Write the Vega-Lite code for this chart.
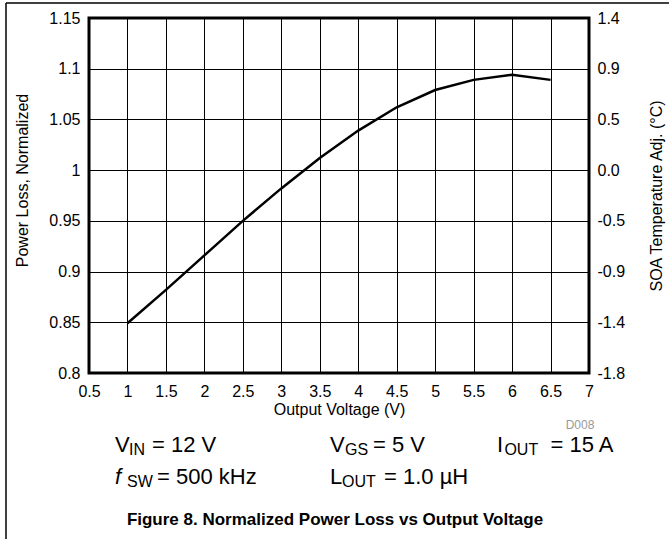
{
  "$schema": "https://vega.github.io/schema/vega-lite/v6.json",
  "width": 500,
  "height": 355,
  "autosize": {"type": "none"},
  "padding": {"left": 89, "top": 18, "right": 80, "bottom": 166},
  "background": "white",
  "config": {
    "font": "Liberation Sans",
    "view": {"stroke": "#000", "strokeWidth": 3},
    "axis": {
      "labelFont": "Liberation Sans",
      "titleFont": "Liberation Sans",
      "labelColor": "#000",
      "titleColor": "#000",
      "labelFontSize": 16,
      "titleFontSize": 16,
      "titleFontWeight": "normal",
      "labelOverlap": false,
      "ticks": false,
      "domain": false,
      "gridColor": "#000",
      "gridOpacity": 1,
      "gridWidth": 1
    }
  },
  "datasets": {
    "curve": [
      {"vout": 1, "loss": 0.849},
      {"vout": 1.5, "loss": 0.882},
      {"vout": 2, "loss": 0.916},
      {"vout": 2.5, "loss": 0.95},
      {"vout": 3, "loss": 0.982},
      {"vout": 3.5, "loss": 1.012},
      {"vout": 4, "loss": 1.039},
      {"vout": 4.5, "loss": 1.062},
      {"vout": 5, "loss": 1.079},
      {"vout": 5.5, "loss": 1.089},
      {"vout": 6, "loss": 1.094},
      {"vout": 6.5, "loss": 1.089}
    ],
    "notes": [
      {"kind": "main", "label": "V", "vx": 0.838, "vy": 0.7295},
      {"kind": "sub", "label": "IN", "vx": 1.02, "vy": 0.7295},
      {"kind": "main", "label": "= 12 V", "vx": 1.319, "vy": 0.7295},
      {"kind": "main", "label": "V", "vx": 3.633, "vy": 0.7295},
      {"kind": "sub", "label": "GS", "vx": 3.828, "vy": 0.7295},
      {"kind": "main", "label": "= 5 V", "vx": 4.192, "vy": 0.7295},
      {"kind": "main", "label": "I", "vx": 5.804, "vy": 0.7295},
      {"kind": "sub", "label": "OUT", "vx": 5.9, "vy": 0.7295},
      {"kind": "main", "label": "= 15 A", "vx": 6.5, "vy": 0.7295},
      {"kind": "italic", "label": "f", "vx": 0.838, "vy": 0.6975},
      {"kind": "sub", "label": "SW", "vx": 0.994, "vy": 0.6975},
      {"kind": "main", "label": "= 500 kHz", "vx": 1.385, "vy": 0.6975},
      {"kind": "main", "label": "L", "vx": 3.633, "vy": 0.6975},
      {"kind": "sub", "label": "OUT", "vx": 3.789, "vy": 0.6975},
      {"kind": "main", "label": "= 1.0 µH", "vx": 4.335, "vy": 0.6975},
      {"kind": "code", "label": "D008", "vx": 6.883, "vy": 0.7487},
      {"kind": "caption", "label": "Figure 8. Normalized Power Loss vs Output Voltage", "vx": 3.698, "vy": 0.6551}
    ]
  },
  "layer": [
    {
      "data": {"name": "curve"},
      "mark": {"type": "line", "color": "#000", "strokeWidth": 2.5},
      "encoding": {
        "x": {
          "field": "vout", "type": "quantitative",
          "scale": {"domain": [0.5, 7], "nice": false, "zero": false},
          "axis": {"values": [0.5, 1, 1.5, 2, 2.5, 3, 3.5, 4, 4.5, 5, 5.5, 6, 6.5, 7], "labelExpr": "'' + datum.value", "title": "Output Voltage (V)", "labelPadding": 10, "titlePadding": 2, "grid": true, "labelOverlap": false, "labelFlush": false, "labelBound": false}
        },
        "y": {
          "field": "loss", "type": "quantitative",
          "scale": {"domain": [0.8, 1.15], "nice": false, "zero": false},
          "axis": {"values": [0.8, 0.85, 0.9, 0.95, 1, 1.05, 1.1, 1.15], "format": "~g", "title": "Power Loss, Normalized", "labelPadding": 9, "titlePadding": 18, "titleY": 162, "grid": true, "labelOverlap": false}
        }
      }
    },
    {
      "data": {"name": "curve"},
      "mark": {"type": "point", "opacity": 0},
      "encoding": {
        "x": {"field": "vout", "type": "quantitative", "scale": {"domain": [0.5, 7], "nice": false, "zero": false}, "axis": null},
        "y": {
          "field": "loss", "type": "quantitative",
          "axis": {
            "orient": "right", "grid": false, "labelOverlap": false,
            "values": [0.8, 0.85, 0.9, 0.95, 1, 1.05, 1.1, 1.15],
            "labelExpr": "round(datum.value*100) == 80 ? '-1.8' : round(datum.value*100) == 85 ? '-1.4' : round(datum.value*100) == 90 ? '-0.9' : round(datum.value*100) == 95 ? '-0.5' : round(datum.value*100) == 100 ? '0.0' : round(datum.value*100) == 105 ? '0.5' : round(datum.value*100) == 110 ? '0.9' : '1.4'",
            "title": "SOA Temperature Adj. (°C)", "titleAngle": 270, "titleBaseline": "bottom", "labelPadding": 8, "titlePadding": 40
          }
        }
      }
    },
    {
      "data": {"name": "notes"},
      "transform": [{"filter": "datum.kind == 'main'"}],
      "mark": {"type": "text", "align": "left", "baseline": "middle", "fontSize": 22, "color": "#000"},
      "encoding": {
        "x": {"field": "vx", "type": "quantitative", "scale": {"domain": [0.5, 7], "nice": false, "zero": false}, "axis": null},
        "y": {"field": "vy", "type": "quantitative", "axis": null},
        "text": {"field": "label"}
      }
    },
    {
      "data": {"name": "notes"},
      "transform": [{"filter": "datum.kind == 'italic'"}],
      "mark": {"type": "text", "align": "left", "baseline": "middle", "fontSize": 22, "fontStyle": "italic", "color": "#000"},
      "encoding": {
        "x": {"field": "vx", "type": "quantitative", "scale": {"domain": [0.5, 7], "nice": false, "zero": false}, "axis": null},
        "y": {"field": "vy", "type": "quantitative", "axis": null},
        "text": {"field": "label"}
      }
    },
    {
      "data": {"name": "notes"},
      "transform": [{"filter": "datum.kind == 'sub'"}],
      "mark": {"type": "text", "align": "left", "baseline": "middle", "fontSize": 16, "dy": 5, "color": "#000"},
      "encoding": {
        "x": {"field": "vx", "type": "quantitative", "scale": {"domain": [0.5, 7], "nice": false, "zero": false}, "axis": null},
        "y": {"field": "vy", "type": "quantitative", "axis": null},
        "text": {"field": "label"}
      }
    },
    {
      "data": {"name": "notes"},
      "transform": [{"filter": "datum.kind == 'code'"}],
      "mark": {"type": "text", "align": "center", "baseline": "middle", "fontSize": 12, "color": "#999"},
      "encoding": {
        "x": {"field": "vx", "type": "quantitative", "scale": {"domain": [0.5, 7], "nice": false, "zero": false}, "axis": null},
        "y": {"field": "vy", "type": "quantitative", "axis": null},
        "text": {"field": "label"}
      }
    },
    {
      "data": {"name": "notes"},
      "transform": [{"filter": "datum.kind == 'caption'"}],
      "mark": {"type": "text", "align": "center", "baseline": "middle", "fontSize": 17, "fontWeight": "bold", "color": "#000"},
      "encoding": {
        "x": {"field": "vx", "type": "quantitative", "scale": {"domain": [0.5, 7], "nice": false, "zero": false}, "axis": null},
        "y": {"field": "vy", "type": "quantitative", "axis": null},
        "text": {"field": "label"}
      }
    },
    {
      "data": {"values": [{}]},
      "mark": {"type": "rule", "color": "#000", "strokeWidth": 1.5},
      "encoding": {
        "x": {"datum": -0.579, "type": "quantitative", "scale": {"domain": [0.5, 7], "nice": false, "zero": false}, "axis": null},
        "y": {"datum": 1.1648, "type": "quantitative", "axis": null},
        "y2": {"datum": 0.6}
      }
    },
    {
      "data": {"values": [{}]},
      "mark": {"type": "rule", "color": "#000", "strokeWidth": 1.5},
      "encoding": {
        "x": {"datum": -0.579, "type": "quantitative", "scale": {"domain": [0.5, 7], "nice": false, "zero": false}, "axis": null},
        "x2": {"datum": 8.3},
        "y": {"datum": 1.1648, "type": "quantitative", "axis": null}
      }
    }
  ],
  "resolve": {"scale": {"x": "independent"}, "axis": {"x": "independent", "y": "independent"}}
}
